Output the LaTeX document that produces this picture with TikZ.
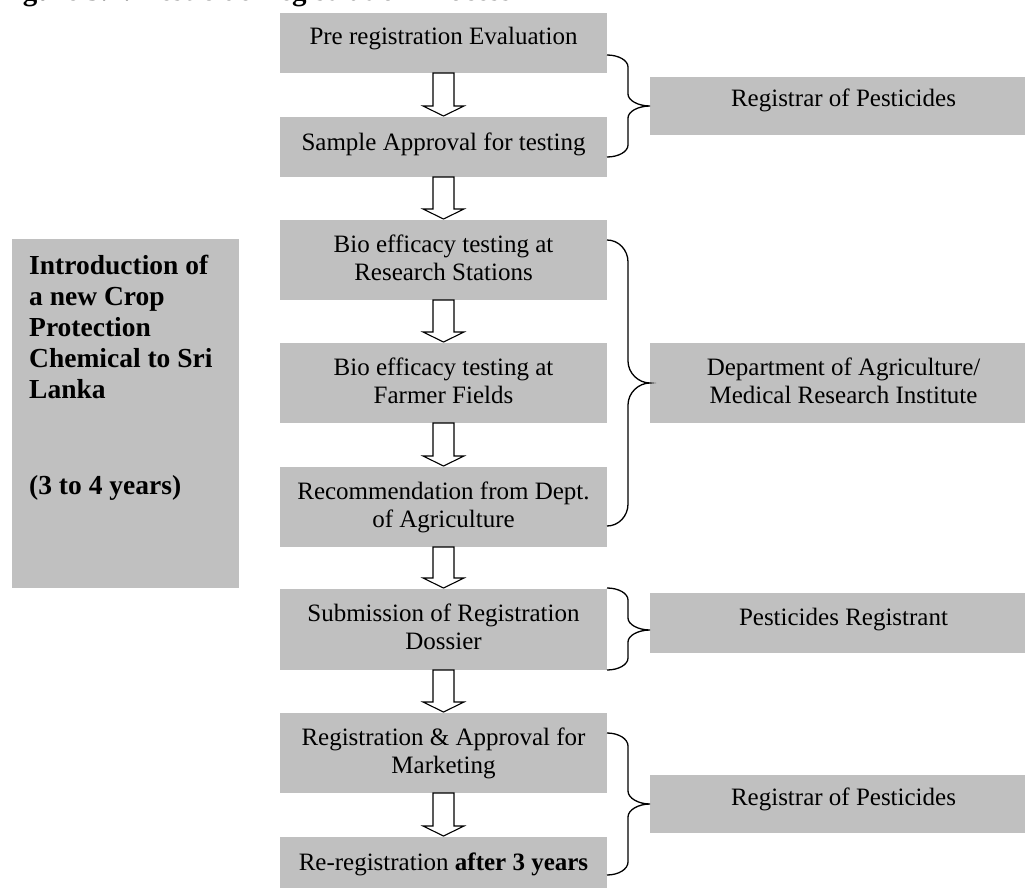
\documentclass[tikz,border=0pt]{standalone}
\usepackage{fontspec}
\setmainfont{Liberation Serif}
\usetikzlibrary{calc}
\definecolor{boxgray}{RGB}{192,192,192}
\newcommand{\blockarrow}[2]{%
  \draw[arr] ($(#1.south)+(-10.5,0)$) -- ($(#2.north)+(-10.5,-11)$) -- ($(#2.north)+(-20.5,-11)$)
    -- ($(#2.north)+(0,-1)$) -- ($(#2.north)+(20.5,-11)$) -- ($(#2.north)+(10.5,-11)$)
    -- ($(#1.south)+(10.5,0)$) -- cycle;}
\newcommand{\curlybrace}[4]{%
  \draw[brc] let \p1=(#1), \p2=(#2), \p3=(#3) in
    (\x1,\y1) .. controls ({\x1+11.6pt},\y1) and ({\x1+21pt},{\y1-0.45*#4pt}) .. ({\x1+21pt},{\y1-#4pt})
    -- ({\x1+21pt},{\y2+#4pt})
    .. controls ({\x1+21pt},{\y2+0.45*#4pt}) and ({\x2-11.6pt},\y2) .. (\x2,\y2)
    .. controls ({\x2-11.6pt},\y2) and ({\x1+21pt},{\y2-0.45*#4pt}) .. ({\x1+21pt},{\y2-#4pt})
    -- ({\x1+21pt},{\y3+#4pt})
    .. controls ({\x1+21pt},{\y3+0.45*#4pt}) and ({\x1+11.6pt},\y3) .. (\x3,\y3);}
\begin{document}
\begin{tikzpicture}[x=1pt,y=-1pt,
  gbox/.style={fill=boxgray, draw=none, inner sep=0pt, outer sep=0pt, anchor=north west},
  mtxt/.style={font=\fontsize{25pt}{28pt}\selectfont, inner sep=0pt, anchor=base},
  ltxt/.style={font=\fontsize{27.5pt}{31pt}\selectfont\bfseries, inner sep=0pt, anchor=base west},
  ttl/.style={font=\fontsize{29pt}{32pt}\selectfont\bfseries, inner sep=0pt, anchor=base west},
  arr/.style={draw=black, fill=white, line width=1.1pt, line join=miter},
  brc/.style={draw=black, line width=1.3pt}]
\useasboundingbox (0,0) rectangle (1025,888);
\fill[white] (0,0) rectangle (1025,888);

% title (cut off at the top)
\node[ttl] (title) at (-3,0.5) {Figure 3.1: Pesticide Registration Process};

% main column boxes
\node[gbox, minimum width=327pt, minimum height=60pt] (b1) at (280,13) {};
\node[gbox, minimum width=327pt, minimum height=60pt] (b2) at (280,117) {};
\node[gbox, minimum width=327pt, minimum height=80pt] (b3) at (280,220) {};
\node[gbox, minimum width=327pt, minimum height=80pt] (b4) at (280,343) {};
\node[gbox, minimum width=327pt, minimum height=80pt] (b5) at (280,467) {};
\node[gbox, minimum width=327pt, minimum height=81pt] (b6) at (280,589) {};
\node[gbox, minimum width=327pt, minimum height=80pt] (b7) at (280,713) {};
\node[gbox, minimum width=327pt, minimum height=60pt] (b8) at (280,837) {};

% left box
\node[gbox, minimum width=227pt, minimum height=349pt] (intro) at (12,239) {};

% right boxes
\node[gbox, minimum width=387pt, minimum height=58pt] (r1) at (650,77) {};
\node[gbox, minimum width=387pt, minimum height=80pt] (r2) at (650,343) {};
\node[gbox, minimum width=387pt, minimum height=60pt] (r3) at (650,593) {};
\node[gbox, minimum width=387pt, minimum height=58pt] (r4) at (650,775) {};

% texts main column
\node[mtxt] (t1) at (443.5,45) {Pre registration Evaluation};
\node[mtxt] (t2) at (443.5,150) {Sample Approval for testing};
\node[mtxt] (t3a) at (443.5,252.5) {Bio efficacy testing at};
\node[mtxt] (t3b) at (443.5,280.5) {Research Stations};
\node[mtxt] (t4a) at (443.5,375.5) {Bio efficacy testing at};
\node[mtxt] (t4b) at (443.5,403.5) {Farmer Fields};
\node[mtxt] (t5a) at (443.5,499.5) {Recommendation from Dept.};
\node[mtxt] (t5b) at (443.5,527.5) {of Agriculture};
\node[mtxt] (t6a) at (443.5,621.5) {Submission of Registration};
\node[mtxt] (t6b) at (443.5,649.5) {Dossier};
\node[mtxt] (t7a) at (443.5,745.5) {Registration \& Approval for};
\node[mtxt] (t7b) at (443.5,773.5) {Marketing};
\node[mtxt] (t8) at (443.5,870) {Re-registration \textbf{after 3 years}};

% texts left
\node[ltxt] (l1) at (29,274) {Introduction of};
\node[ltxt] (l2) at (29,305) {a new Crop};
\node[ltxt] (l3) at (29,336) {Protection};
\node[ltxt] (l4) at (29,367) {Chemical to Sri};
\node[ltxt] (l5) at (29,398) {Lanka};
\node[ltxt] (l6) at (29,494) {(3 to 4 years)};

% texts right
\node[mtxt] (s1) at (843.5,107) {Registrar of Pesticides};
\node[mtxt] (s2a) at (843.5,375) {Department of Agriculture/};
\node[mtxt] (s2b) at (843.5,403) {Medical Research Institute};
\node[mtxt] (s3) at (843.5,625) {Pesticides Registrant};
\node[mtxt] (s4) at (843.5,805) {Registrar of Pesticides};

% block arrows
\blockarrow{b1}{b2}
\blockarrow{b2}{b3}
\blockarrow{b3}{b4}
\blockarrow{b4}{b5}
\blockarrow{b5}{b6}
\blockarrow{b6}{b7}
\blockarrow{b7}{b8}

% braces
\coordinate (k1a) at (607,55);  \coordinate (k1b) at (607,157);
\coordinate (k2a) at (607,240); \coordinate (k2b) at (607,526);
\coordinate (k3a) at (607,588); \coordinate (k3b) at (607,670);
\coordinate (k4a) at (607,733); \coordinate (k4b) at (607,875);
\curlybrace{k1a}{r1.west}{k1b}{12}
\curlybrace{k2a}{r2.west}{k2b}{22}
\curlybrace{k3a}{$(r3.west)+(0,7)$}{k3b}{12}
\curlybrace{k4a}{r4.west}{k4b}{13}
\end{tikzpicture}
\end{document}
